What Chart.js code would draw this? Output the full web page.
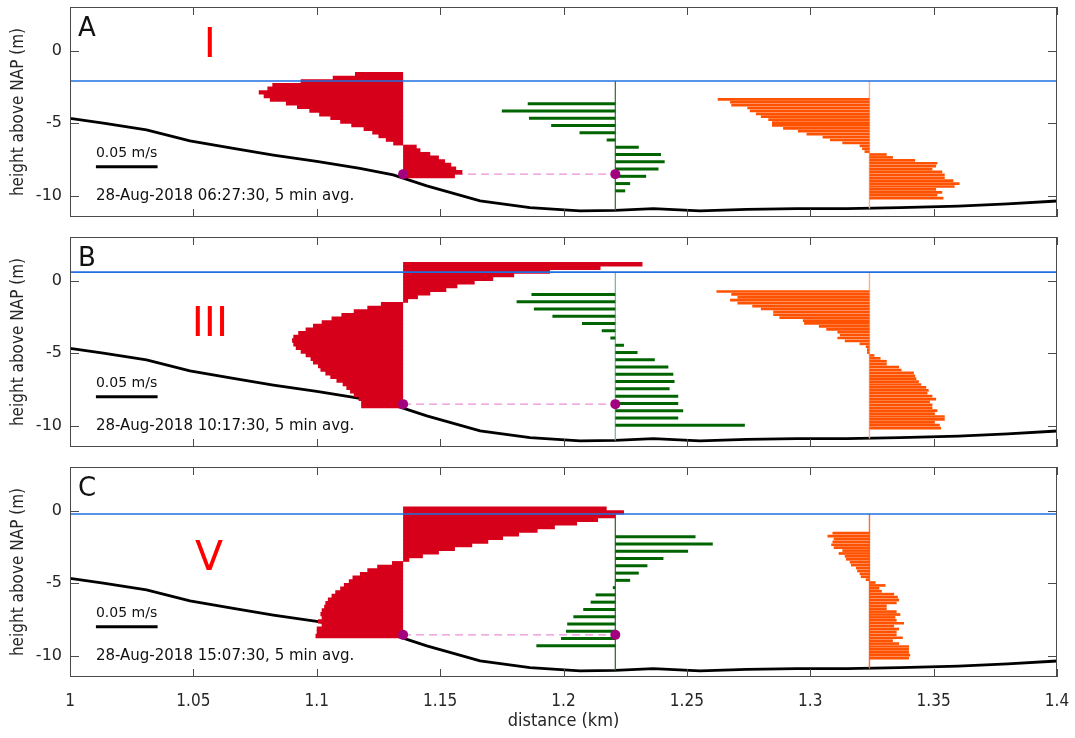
<!DOCTYPE html>
<html lang="en">
<head>
<meta charset="UTF-8">
<title>Velocity profiles along the transect</title>
<script src="https://cdn.jsdelivr.net/npm/chart.js"></script>
<style>
  body { margin: 0; background: #fff; }
  #wrap { position: relative; width: 1075px; height: 738px; }
  .panel { position: absolute; left: 0; width: 1075px; }
</style>
</head>
<body>
<div id="wrap">
  <div class="panel" style="top:0;height:229px"><canvas id="panelA"></canvas></div>
  <div class="panel" style="top:229px;height:229px"><canvas id="panelB"></canvas></div>
  <div class="panel" style="top:458px;height:280px"><canvas id="panelC"></canvas></div>
</div>
<script>
// ---- data ----
const xTickLabels = ['1', '1.05', '1.1', '1.15', '1.2', '1.25', '1.3', '1.35', '1.4'];
const yTickLabels = ['-10', '-5', '0'];

// bed profile (same in all panels)
const bedDist = [1.0, 1.0135, 1.031, 1.0486, 1.0662, 1.0824, 1.100, 1.1175, 1.131, 1.1446, 1.1662,
                 1.1864, 1.2067, 1.2209, 1.2364, 1.2553, 1.2742, 1.2945, 1.3148, 1.3364, 1.36, 1.38, 1.4];
const bedHeight = [-4.66, -4.99, -5.45, -6.21, -6.73, -7.19, -7.63, -8.11, -8.55, -9.31, -10.34,
                   -10.8, -11.03, -10.99, -10.87, -11.03, -10.92, -10.87, -10.87, -10.8, -10.7, -10.55, -10.35];

// profile stations (km): red, green, orange
const stationDist = [1.135, 1.221, 1.324];
const greenFloor = -11.0;
const orangeFloor = -10.87;

const waterLevel = [-2.09, 0.58, -0.23];
const refDepth = [-8.5, -8.5, -8.55];
const panelLetters = ['A', 'B', 'C'];
const phaseLabels = ['I', 'III', 'V'];
const timeStamps = ['28-Aug-2018 06:27:30, 5 min avg.',
                    '28-Aug-2018 10:17:30, 5 min avg.',
                    '28-Aug-2018 15:07:30, 5 min avg.'];

// red profile (m/s), 0.25 m bins below top edge
const redTop = [-1.5, 1.25, 0.25];
const redA = [-0.039, -0.057, -0.083, -0.106, -0.110, -0.117, -0.113, -0.108, -0.095, -0.086,
              -0.076, -0.068, -0.059, -0.051, -0.042, -0.032, -0.025, -0.020, -0.014, -0.008,
              0.011, 0.014, 0.022, 0.029, 0.034, 0.039, 0.043, 0.048, 0.042];
const redB = [0.194, 0.160, 0.119, 0.090, 0.073, 0.058, 0.044, 0.035, 0.022, 0.012,
              0.004, -0.018, -0.029, -0.040, -0.050, -0.058, -0.066, -0.073, -0.079, -0.085,
              -0.089, -0.090, -0.089, -0.087, -0.083, -0.079, -0.075, -0.073, -0.069, -0.067,
              -0.063, -0.059, -0.054, -0.049, -0.046, -0.043, -0.040, -0.036, -0.034, -0.034];
const redC = [0.165, 0.179, 0.172, 0.158, 0.141, 0.123, 0.109, 0.094, 0.081, 0.069,
              0.056, 0.042, 0.029, 0.016, 0.005, -0.009, -0.021, -0.029, -0.035, -0.041,
              -0.044, -0.048, -0.051, -0.055, -0.058, -0.061, -0.063, -0.064, -0.066, -0.067,
              -0.066, -0.069, -0.066, -0.070, -0.070, -0.071];

// green profile (m/s), 0.5 m bins, first bin centre
const greenFirst = [-3.65, -0.95, -1.8];
const greenA = [-0.071, -0.092, -0.070, -0.052, -0.029, -0.007, 0.019, 0.037, 0.040, 0.035, 0.025, 0.012, 0.008];
const greenB = [-0.068, -0.080, -0.066, -0.051, -0.027, -0.011, -0.004, 0.007, 0.018, 0.032,
                0.043, 0.047, 0.048, 0.044, 0.051, 0.051, 0.055, 0.051, 0.105];
const greenC = [0.065, 0.079, 0.059, 0.039, 0.026, 0.019, 0.012, -0.002, -0.016, -0.020,
                -0.026, -0.034, -0.039, -0.040, -0.044, -0.064];

// orange profile (m/s), 0.2 m bins below top edge
const orangeTop = [-3.25, -0.65, -1.45];
const orangeA = [-0.123, -0.113, -0.112, -0.099, -0.097, -0.092, -0.088, -0.082, -0.079, -0.079,
                 -0.070, -0.058, -0.051, -0.038, -0.032, -0.022, -0.008, -0.006, -0.004, 0.014,
                 0.019, 0.037, 0.055, 0.054, 0.051, 0.059, 0.061, 0.061, 0.068, 0.073,
                 0.069, 0.054, 0.059, 0.055, 0.060];
const orangeB = [-0.124, -0.112, -0.107, -0.113, -0.107, -0.095, -0.088, -0.078, -0.078, -0.073,
                 -0.054, -0.053, -0.041, -0.035, -0.026, -0.024, -0.026, -0.020, -0.008, -0.003,
                 -0.002, -0.002, 0.004, 0.009, 0.014, 0.014, 0.024, 0.026, 0.036, 0.037,
                 0.038, 0.040, 0.042, 0.046, 0.048, 0.047, 0.051, 0.054, 0.049, 0.051,
                 0.051, 0.055, 0.053, 0.061, 0.061, 0.053, 0.057, 0.058];
const orangeC = [-0.030, -0.034, -0.029, -0.030, -0.031, -0.029, -0.022, -0.025, -0.020, -0.019,
                 -0.016, -0.015, -0.011, -0.010, -0.008, -0.007, -0.003, 0.005, 0.013, 0.008,
                 0.010, 0.020, 0.023, 0.024, 0.022, 0.014, 0.014, 0.022, 0.025, 0.021,
                 0.022, 0.028, 0.020, 0.024, 0.022, 0.022, 0.027, 0.019, 0.024, 0.032,
                 0.032, 0.032, 0.033, 0.032];

// ---- layout / style ----
const VSCALE = 0.5;          // km of distance per m/s of velocity (0.05 m/s bar = 0.025 km)
const SCALE_BAR = 0.05;      // m/s
const COND = '"DejaVu Sans Condensed", "Liberation Sans Narrow", "DejaVu Sans", sans-serif';
const SANS = '"DejaVu Sans", sans-serif';
Chart.defaults.font.family = SANS;
Chart.defaults.color = '#262626';

const binCentres = (top, step, n) => Array.from({length: n}, (_, i) => +(top - step * (i + 0.5)).toFixed(3));

const panels = [
  {id: 'panelA', padTop: 7, xHeight: 12, red: redA, green: greenA, orange: orangeA,
   phasePos: [1.0567, 0.32], greenLine: '#2f6b2f', orangeLine: '#ffad92'},
  {id: 'panelB', padTop: 8, xHeight: 11, red: redB, green: greenB, orange: orangeB,
   phasePos: [1.0567, -3.06], greenLine: '#6dba8a', orangeLine: '#ffad92'},
  {id: 'panelC', padTop: 9, xHeight: 61, red: redC, green: greenC, orange: orangeC,
   phasePos: [1.0563, -3.38], greenLine: '#2f5f2f', orangeLine: '#ff6a3a'}
];

function profileBars(base, zs, us, color, thickness, order) {
  return {
    type: 'bar', indexAxis: 'y', grouped: false, order: order,
    data: zs.map((z, i) => ({x: [base, base + us[i] * VSCALE], y: z})),
    backgroundColor: color, borderWidth: 0, barThickness: thickness,
    categoryPercentage: 1, barPercentage: 1, inflateAmount: 0
  };
}

function line(points, color, width, order, extra) {
  return Object.assign({
    type: 'line', showLine: true, data: points, borderColor: color, borderWidth: width,
    pointRadius: 0, fill: false, tension: 0, order: order
  }, extra || {});
}

const framePlugin = {
  id: 'frame',
  afterDatasetsDraw(chart) {
    const {ctx, chartArea: a, scales: {x, y}} = chart;
    ctx.save();
    ctx.strokeStyle = '#4a4a4a';
    ctx.lineWidth = 1;
    ctx.beginPath();
    x.ticks.forEach(t => {
      const px = Math.round(x.getPixelForValue(t.value)) + 0.5;
      ctx.moveTo(px, a.top); ctx.lineTo(px, a.top + 8);
      ctx.moveTo(px, a.bottom); ctx.lineTo(px, a.bottom - 8);
    });
    y.ticks.forEach(t => {
      const py = Math.round(y.getPixelForValue(t.value)) + 0.5;
      ctx.moveTo(a.left, py); ctx.lineTo(a.left + 9, py);
      ctx.moveTo(a.right, py); ctx.lineTo(a.right - 9, py);
    });
    ctx.stroke();
    ctx.strokeRect(Math.round(a.left) + 0.5, Math.round(a.top) + 0.5,
                   Math.round(a.right - a.left) - 1, Math.round(a.bottom - a.top) - 1);
    ctx.restore();
  }
};

const textPlugin = {
  id: 'panelText',
  afterDatasetsDraw(chart, args, opts) {
    const {ctx, scales: {x, y}} = chart;
    ctx.save();
    ctx.textBaseline = 'middle';
    ctx.textAlign = 'left';
    ctx.fillStyle = '#111';
    ctx.font = '26px ' + SANS;
    ctx.fillText(opts.letter, x.getPixelForValue(1.0032), y.getPixelForValue(1.45));
    ctx.font = '14px ' + SANS;
    ctx.fillText(SCALE_BAR + ' m/s', x.getPixelForValue(1.0105), y.getPixelForValue(-7.05));
    ctx.font = '15px ' + SANS;
    ctx.fillText(opts.stamp, x.getPixelForValue(1.0105), y.getPixelForValue(-10.0));
    ctx.fillStyle = '#ff0000';
    ctx.textAlign = 'center';
    ctx.font = '41px ' + SANS;
    ctx.fillText(opts.phase, x.getPixelForValue(opts.phasePos[0]), y.getPixelForValue(opts.phasePos[1]));
    ctx.restore();
  }
};

panels.forEach((p, k) => {
  const isBottom = k === panels.length - 1;
  const lvl = waterLevel[k];
  const [xr, xg, xo] = stationDist;
  const redZ = binCentres(redTop[k], 0.25, p.red.length);
  const greenZ = binCentres(greenFirst[k] + 0.25, 0.5, p.green.length);
  const orangeZ = binCentres(orangeTop[k], 0.2, p.orange.length);

  const datasets = [
    line([{x: 1.0, y: lvl}, {x: 1.4, y: lvl}], '#1f6fe0', 1.6, 0),
    line([{x: 1.0105, y: -8}, {x: 1.0105 + SCALE_BAR * VSCALE, y: -8}], '#000', 3, 0),
    {type: 'line', showLine: false, data: [{x: xr, y: refDepth[k]}, {x: xg, y: refDepth[k]}],
     pointRadius: 5, pointBackgroundColor: '#a3007f', pointBorderWidth: 0, order: 1},
    profileBars(xr, redZ, p.red, '#d7001b', 4.4, 2),
    line([{x: xr, y: refDepth[k]}, {x: xg, y: refDepth[k]}], '#ec8fd9', 1.3, 3, {borderDash: [8, 5]}),
    profileBars(xg, greenZ, p.green, '#006400', 3, 4),
    profileBars(xo, orangeZ, p.orange, '#ff5200', 2.7, 4),
    line([{x: xg, y: lvl}, {x: xg, y: greenFloor}], p.greenLine, 1.2, 5),
    line([{x: xo, y: lvl}, {x: xo, y: orangeFloor}], p.orangeLine, 1.4, 5),
    line(bedDist.map((d, i) => ({x: d, y: bedHeight[i]})), '#000', 2.8, 6)
  ];

  new Chart(document.getElementById(p.id), {
    type: 'scatter',
    data: {datasets: datasets},
    options: {
      responsive: true,
      maintainAspectRatio: false,
      animation: false,
      layout: {padding: {top: p.padTop, right: 18, left: 0, bottom: 0}},
      plugins: {
        legend: {display: false},
        tooltip: {enabled: false},
        panelText: {letter: panelLetters[k], phase: phaseLabels[k], stamp: timeStamps[k], phasePos: p.phasePos}
      },
      scales: {
        x: {
          type: 'linear', min: 1.0, max: 1.4, offset: false,
          grid: {display: false, drawTicks: false}, border: {display: false},
          ticks: {display: isBottom, stepSize: 0.05, padding: 14, color: '#262626',
                  font: {family: COND, size: 17}, callback: (v, i) => xTickLabels[i]},
          title: {display: isBottom, text: 'distance (km)', color: '#262626',
                  font: {family: COND, size: 18}, padding: {top: 0, bottom: 6}},
          afterFit: s => { s.height = p.xHeight; s.paddingLeft = 0; s.paddingRight = 0; }
        },
        y: {
          type: 'linear', min: -11.45, max: 3.0, offset: false,
          grid: {display: false, drawTicks: false}, border: {display: false},
          ticks: {stepSize: 5, includeBounds: false, padding: 8, color: '#262626',
                  font: {family: SANS, size: 16},
                  callback: v => yTickLabels[[-10, -5, 0].indexOf(Math.round(v))]},
          title: {display: true, text: 'height above NAP (m)', color: '#262626',
                  font: {family: COND, size: 17}, padding: {top: 8, bottom: 0}},
          afterFit: s => { s.width = 70; s.paddingTop = 0; s.paddingBottom = 0; }
        }
      }
    },
    plugins: [framePlugin, textPlugin]
  });
});
</script>
</body>
</html>
